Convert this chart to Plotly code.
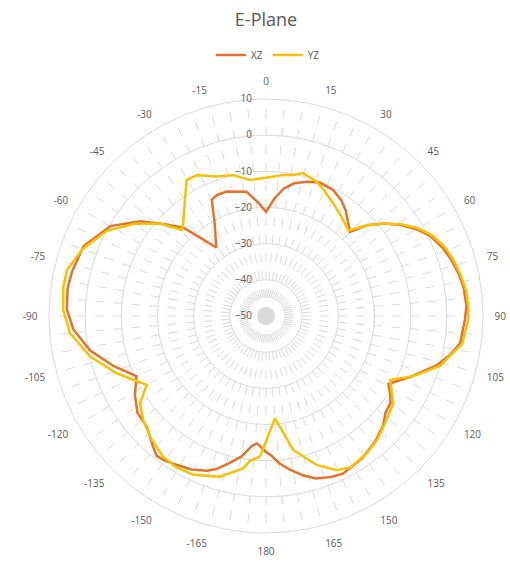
import plotly.graph_objects as go

# Angles (degrees, clockwise from top) and gain values (dB)
XZ_ANGLES = [-180, -176, -174, -170, -166, -162, -159, -154, -149, -145, -142, -139, -133,
             -127, -121, -115, -108, -101, -94, -88, -82, -77, -69, -60, -53, -47, -43, -40,
             -36, -29, -25, -22, -17.5, -9, -4, 0, 4, 8, 12, 17, 22, 28, 33, 37, 41, 45, 48,
             52, 56, 60, 64, 69, 73, 78, 82, 87, 91, 98, 102, 106, 113, 119, 122, 125, 129,
             133, 139, 146, 154, 158, 163, 167, 171, 175, 178, 180]
XZ_VALUES = [-12.4, -14.7, -14.0, -10.5, -8.1, -5.5, -4.2, -2.8, -2.0, -1.2, -0.9, -2.3, -5.0,
             -5.5, -7.7, -10.5, -5.5, -0.4, 3.4, 5.1, 5.4, 5.0, 4.0, -0.3, -6.5, -13.0, -16.7, -21.8,
             -26.6, -20.7, -14.5, -13.9, -13.9, -15.2, -18.5, -21.2, -17.5, -14.4, -12.5, -11.2,
             -10.2, -10.5, -11.8, -13.4, -15.5, -17.1, -12.5,
             -8.5, -5.0, -2.0, 0.5, 2.4, 3.5, 4.6, 5.2, 5.5, 5.0, 4.2, 2.0, -0.8, -6.8, -11.3,
             -9.5, -8.0, -7.5, -5.7, -4.0, -2.5, -1.5, -2.0, -3.0, -4.8, -6.9, -9.2, -11.5, -12.4]

YZ_ANGLES = [-177.6, -173.7, -171.5, -164, -155.4, -149, -143.9, -137, -130.3, -124.7, -120,
             -111, -103, -95, -88.3, -82, -77, -70, -62, -55, -49, -44.4, -41.2, -35, -30.3,
             -26.2, -19.5, -13.2, -6.7, 0, 6.9, 11, 14.5, 20.7, 25, 30.8, 37, 44, 48, 52, 56,
             60, 64, 69, 73, 78, 83, 88, 91, 98, 106, 112, 117.3, 124.5, 133.3, 138, 143.7,
             150.9, 155.3, 161.2, 168.5, 175, 182.4]
YZ_VALUES = [-11.1, -9.7, -7.4, -3.8, -1.7, -1.4, -1.8, -3.5, -5.5, -7.6, -11.9,
             -5.8, -0.1, 4.4, 6.1, 6.6, 6.5, 4.0, 0.0, -5.5, -11.0, -16.7, -15.3, -10.9, -6.5,
             -6.6, -9.1, -10.0, -12.1, -11.8, -10.7, -10.3, -9.2, -10.3, -11.8, -13.7, -15.5,
             -17.1, -12.5, -8.5, -4.7, -1.5, 1.0, 3.0, 4.0, 5.0, 5.8, 6.0, 5.9, 4.8, 0.0, -5.8,
             -11.4, -7.3, -5.4, -4.0, -2.9, -2.1, -3.1, -6.5, -12.2, -21.6, -11.1]

RADIAL_TICKS = [-50, -40, -30, -20, -10, 0, 10]
ANGLE_GRID = list(range(0, 360, 5))
ANGLE_LABELS = [
    (str(a) if a <= 180 else str(a - 360)) if a % 15 == 0 else ""
    for a in ANGLE_GRID
]

GRAY_TXT = "#595959"
GRID = "#D9D9D9"

fig = go.Figure()
fig.add_trace(go.Scatterpolar(r=XZ_VALUES, theta=XZ_ANGLES, mode="lines", name="XZ",
                              line=dict(color="#E2722C", width=2.5)))
fig.add_trace(go.Scatterpolar(r=YZ_VALUES, theta=YZ_ANGLES, mode="lines", name="YZ",
                              line=dict(color="#F5C100", width=2.5)))

fig.update_layout(
    width=510, height=565,
    margin=dict(l=0, r=0, t=0, b=0),
    paper_bgcolor="white",
    font=dict(family="Open Sans, Liberation Sans, sans-serif", color=GRAY_TXT, size=10),
    title=dict(text="E-Plane", x=0.5216, xanchor="center", y=0.965, yanchor="middle",
               font=dict(size=18, color=GRAY_TXT)),
    showlegend=True,
    legend=dict(orientation="h", x=0.5255, xanchor="center", y=0.9027, yanchor="middle",
                font=dict(size=10, color=GRAY_TXT), itemwidth=30),
    polar=dict(
        domain=dict(x=[0.0961, 0.9471], y=[0.0566, 0.8248]),
        bgcolor="white",
        radialaxis=dict(range=[-50, 10], tickvals=RADIAL_TICKS, angle=90, tickangle=90,
                        side="counterclockwise", showline=False,
                        ticks="outside", ticklen=10, tickcolor="rgba(0,0,0,0)",
                        gridcolor=GRID, gridwidth=1,
                        tickfont=dict(size=10, color=GRAY_TXT)),
        angularaxis=dict(rotation=90, direction="clockwise", tickmode="array",
                         tickvals=ANGLE_GRID, ticktext=ANGLE_LABELS,
                         ticks="outside", ticklen=9, tickcolor="rgba(0,0,0,0)",
                         showline=True, linecolor=GRID, linewidth=1,
                         gridcolor=GRID, gridwidth=1, griddash="dash",
                         tickfont=dict(size=10, color=GRAY_TXT)),
    ),
)

fig.write_html("out.html", config={"displayModeBar": False},
               post_script="document.body.style.margin='0';")
